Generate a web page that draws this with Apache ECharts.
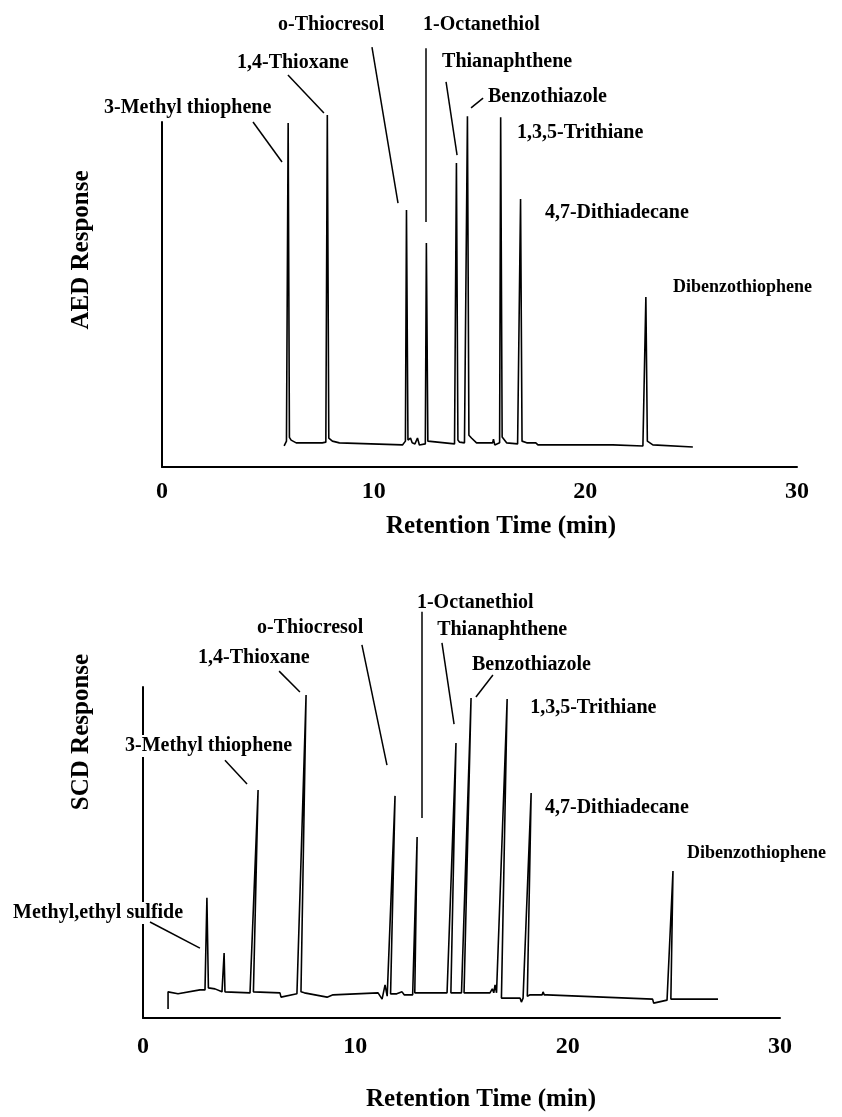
<!DOCTYPE html>
<html>
<head>
<meta charset="utf-8">
<title>AED / SCD chromatograms</title>
<script src="https://cdn.jsdelivr.net/npm/echarts@6/dist/echarts.min.js"></script>
<style>
  html, body { margin: 0; padding: 0; background: #fff; }
  #chart { width: 842px; height: 1117px; }
</style>
</head>
<body>
<div id="chart"></div>
<script>
// x ticks (min)
var xTicks = [0, 10, 20, 30];

// AED trace [retention time, response]
var aedTrace = [
  [5.77, 6.1], [5.88, 7.5], [5.96, 99.7], [6.02, 8.6], [6.10, 7.8], [6.34, 7.0],
  [7.57, 7.0], [7.74, 7.2], [7.81, 102.0], [7.88, 8.4], [8.05, 7.5], [8.38, 7.0],
  [11.36, 6.4], [11.50, 7.5], [11.55, 74.5], [11.62, 7.8], [11.74, 8.4], [11.82, 7.0],
  [11.95, 6.7], [12.07, 8.4], [12.16, 6.4], [12.44, 6.7], [12.49, 64.9], [12.56, 7.5],
  [12.64, 7.0], [13.82, 6.7], [13.91, 88.1], [13.98, 7.8], [14.06, 7.2], [14.29, 7.0],
  [14.43, 101.7], [14.50, 9.2], [14.62, 8.4], [14.86, 7.0], [15.62, 7.0], [15.66, 8.1],
  [15.72, 6.4], [15.95, 7.0], [16.00, 101.4], [16.07, 8.7], [16.28, 7.0], [16.80, 6.7],
  [16.94, 77.7], [17.01, 7.5], [17.23, 7.0], [17.66, 7.0], [17.70, 7.5], [17.76, 6.4],
  [21.30, 6.4], [22.72, 6.1], [22.86, 49.3], [22.93, 7.5], [23.19, 6.4], [25.08, 5.8]
];

// SCD trace [retention time, response]
var scdTrace = [
  [1.18, 2.7], [1.18, 7.9], [1.65, 7.3], [1.72, 7.9], [2.68, 8.5], [2.92, 8.5],
  [3.01, 36.3], [3.08, 9.1], [3.39, 8.8], [3.72, 7.9], [3.79, 7.9], [3.82, 19.6],
  [3.86, 7.9], [5.04, 7.6], [5.10, 7.6], [5.42, 68.9], [5.20, 7.9], [6.45, 7.6],
  [6.50, 6.3], [7.25, 7.3], [7.33, 7.3], [7.68, 97.6], [7.44, 7.9], [7.60, 7.6],
  [8.67, 6.3], [8.95, 7.0], [11.07, 7.6], [11.26, 5.7], [11.40, 10.0], [11.50, 6.6],
  [11.57, 6.6], [11.87, 67.1], [11.66, 7.3], [11.95, 7.3], [12.20, 7.9], [12.30, 7.0],
  [12.48, 7.0], [12.70, 7.0], [12.91, 54.7], [12.80, 7.6], [13.00, 7.6], [14.32, 7.6],
  [14.38, 7.6], [14.74, 83.1], [14.50, 7.6], [14.90, 7.6], [15.00, 7.6], [15.45, 96.7],
  [15.12, 7.6], [15.30, 7.6], [16.34, 7.6], [16.45, 8.8], [16.52, 7.6], [16.58, 10.0],
  [16.65, 7.6], [16.74, 7.6], [17.15, 96.4], [16.88, 6.0], [16.96, 5.7], [17.76, 6.0],
  [17.82, 4.8], [17.90, 6.0], [17.97, 6.0], [18.28, 68.0], [18.10, 6.6], [18.23, 7.0],
  [18.80, 7.0], [18.84, 7.9], [18.90, 7.0], [19.03, 7.0], [24.00, 5.7], [24.05, 4.5],
  [24.68, 5.4], [24.75, 5.4], [24.96, 44.4], [24.86, 5.7], [25.00, 5.7], [27.08, 5.7]
];

// peak names
var aedNames = ['3-Methyl thiophene', '1,4-Thioxane', 'o-Thiocresol', '1-Octanethiol',
  'Thianaphthene', 'Benzothiazole', '1,3,5-Trithiane', '4,7-Dithiadecane', 'Dibenzothiophene'];
var scdNames = ['Methyl,ethyl sulfide', '3-Methyl thiophene', '1,4-Thioxane', 'o-Thiocresol',
  '1-Octanethiol', 'Thianaphthene', 'Benzothiazole', '1,3,5-Trithiane', '4,7-Dithiadecane',
  'Dibenzothiophene'];

// where the names sit (data coords, left/middle of text)
var aedNameAt = [[-2.74, 104.1], [3.54, 117.1], [5.48, 128.1], [12.33, 128.1], [13.23, 117.4],
  [15.40, 107.2], [16.77, 96.8], [18.09, 73.6], [24.14, 52.2]];
var scdNameAt = [[-6.12, 31.7], [-0.85, 82.2], [2.59, 108.8], [5.37, 117.8], [12.90, 125.4],
  [13.85, 117.2], [15.49, 106.6], [18.23, 93.7], [18.93, 63.4], [25.62, 49.8]];

// leader lines
var aedLeaders = [
  [[4.30, 100.0], [5.67, 88.4]],
  [[5.95, 113.6], [7.65, 102.6]],
  [[9.92, 121.7], [11.15, 76.5]],
  [[12.47, 121.4], [12.47, 71.0]],
  [[13.42, 111.6], [13.94, 90.4]],
  [[15.17, 106.9], [14.60, 104.1]]
];
var scdLeaders = [
  [[0.33, 29.0], [2.68, 21.1]],
  [[3.86, 77.9], [4.90, 70.7]],
  [[6.41, 104.8], [7.39, 98.5]],
  [[10.31, 112.7], [11.49, 76.4]],
  [[13.14, 122.7], [13.14, 60.4]],
  [[14.08, 113.3], [14.65, 88.8]],
  [[16.48, 103.6], [15.68, 97.0]]
];

var serif = '"Liberation Serif", "Times New Roman", serif';

function xAxisOf(idx, margin) {
  return {
    gridIndex: idx, type: 'value', min: 0, max: 30, interval: 10,
    axisLine: { show: true, lineStyle: { color: '#000', width: 2 } },
    axisTick: { show: false },
    splitLine: { show: false },
    axisLabel: {
      margin: margin, color: '#000', fontFamily: serif, fontWeight: 'bold', fontSize: 24,
      customValues: xTicks
    }
  };
}
function yAxisOf(idx) {
  return {
    gridIndex: idx, type: 'value', min: 0, max: 100,
    axisLine: { show: true, lineStyle: { color: '#000', width: 2 } },
    axisTick: { show: false }, axisLabel: { show: false }, splitLine: { show: false }
  };
}
function labelSeries(idx, names, at, size) {
  return {
    type: 'scatter', xAxisIndex: idx, yAxisIndex: idx, clip: false, silent: true,
    symbolSize: 0.1, itemStyle: { color: 'transparent', opacity: 1 },
    data: at.map(function (p, i) { return { value: p, name: names[i] }; }),
    label: {
      show: true, position: 'right', distance: 0, formatter: '{b}',
      color: '#000', opacity: 1, fontFamily: serif, fontWeight: 'bold', fontSize: size,
      backgroundColor: '#fff', padding: [1, 0]
    },
    z: 5
  };
}
function leaderSeries(idx, segs) {
  return {
    type: 'lines', coordinateSystem: 'cartesian2d', xAxisIndex: idx, yAxisIndex: idx,
    silent: true, clip: false, data: segs.map(function (s) { return { coords: s }; }),
    lineStyle: { color: '#000', width: 1.5, opacity: 1 }, z: 6
  };
}
function traceSeries(idx, data) {
  return {
    type: 'line', xAxisIndex: idx, yAxisIndex: idx, data: data, clip: false,
    showSymbol: false, symbol: 'none', smooth: false,
    lineStyle: { color: '#000', width: 1.6 }
  };
}

var chart = echarts.init(document.getElementById('chart'));
chart.setOption({
  animation: false,
  backgroundColor: '#fff',
  grid: [
    { left: 162, right: 45, top: 122, height: 345 },
    { left: 143, right: 62, top: 687, height: 331 }
  ],
  xAxis: [xAxisOf(0, 13), xAxisOf(1, 17)],
  yAxis: [yAxisOf(0), yAxisOf(1)],
  series: [
    traceSeries(0, aedTrace),
    traceSeries(1, scdTrace),
    leaderSeries(0, aedLeaders),
    leaderSeries(1, scdLeaders),
    labelSeries(0, aedNames.slice(0, 8), aedNameAt.slice(0, 8), 20),
    labelSeries(0, aedNames.slice(8), aedNameAt.slice(8), 18),
    labelSeries(1, scdNames.slice(0, 9), scdNameAt.slice(0, 9), 20),
    labelSeries(1, scdNames.slice(9), scdNameAt.slice(9), 18)
  ],
  graphic: [
    { type: 'text', x: 501, y: 527, style: { text: 'Retention Time (min)', font: 'bold 25px ' + serif, fill: '#000', textAlign: 'center', textVerticalAlign: 'middle' } },
    { type: 'text', x: 481, y: 1100, style: { text: 'Retention Time (min)', font: 'bold 25px ' + serif, fill: '#000', textAlign: 'center', textVerticalAlign: 'middle' } },
    { type: 'text', x: 82, y: 250, rotation: Math.PI / 2, style: { text: 'AED Response', font: 'bold 25px ' + serif, fill: '#000', textAlign: 'center', textVerticalAlign: 'middle' } },
    { type: 'text', x: 82, y: 732, rotation: Math.PI / 2, style: { text: 'SCD Response', font: 'bold 25px ' + serif, fill: '#000', textAlign: 'center', textVerticalAlign: 'middle' } }
  ]
});
</script>
</body>
</html>
